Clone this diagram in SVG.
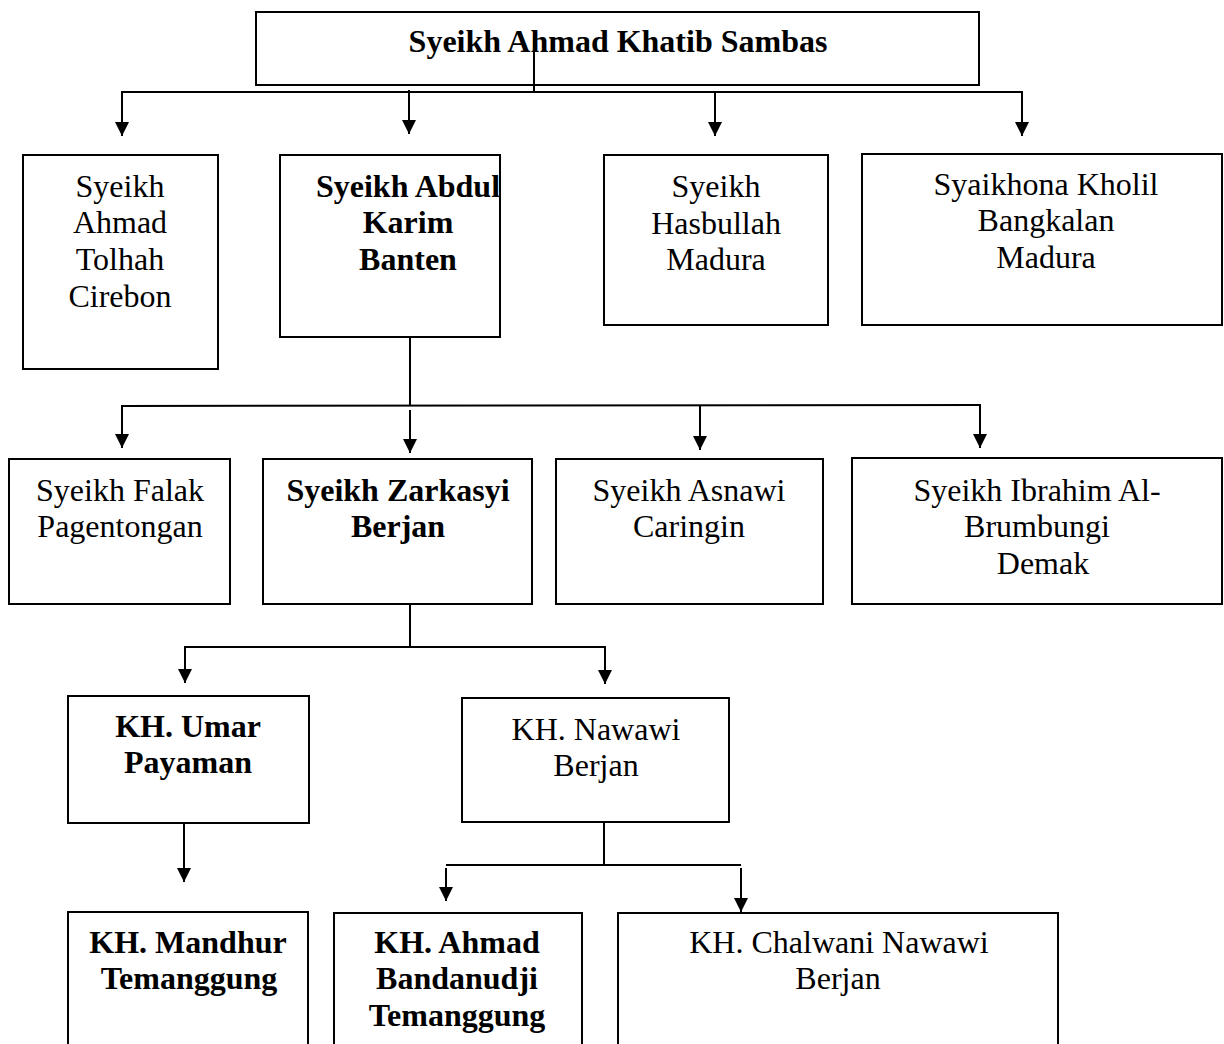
<svg xmlns="http://www.w3.org/2000/svg" width="1224" height="1044" viewBox="0 0 1224 1044">
<style>
.box{fill:#fff;stroke:#000;stroke-width:2}
.t{font-family:"Liberation Serif","Times New Roman",serif;font-size:32px;fill:#000;text-anchor:middle}
.b{font-weight:bold}
.ln{fill:none;stroke:#000;stroke-width:2}
</style>
<defs>
<marker id="ah" viewBox="0 0 14 14" refX="14" refY="7" markerWidth="14" markerHeight="14" markerUnits="userSpaceOnUse" orient="auto">
<path d="M0,0 L14,7 L0,14 Z" fill="#000"/>
</marker>
</defs>
<rect width="1224" height="1044" fill="#fff"/>

<g id="n-root">
<rect class="box" x="256" y="12" width="723" height="73"/>
<text class="t b" x="618" y="52">Syeikh Ahmad Khatib Sambas</text>
</g>
<g id="n-tolhah">
<rect class="box" x="23" y="155" width="195" height="214"/>
<text class="t" x="120" y="197">Syeikh</text>
<text class="t" x="120" y="233">Ahmad</text>
<text class="t" x="120" y="270">Tolhah</text>
<text class="t" x="120" y="307">Cirebon</text>
</g>
<g id="n-abdulkarim">
<rect class="box" x="280" y="155" width="220" height="182"/>
<text class="t b" x="408" y="197">Syeikh Abdul</text>
<text class="t b" x="408" y="233">Karim</text>
<text class="t b" x="408" y="270">Banten</text>
</g>
<g id="n-hasbullah">
<rect class="box" x="604" y="155" width="224" height="170"/>
<text class="t" x="716" y="197">Syeikh</text>
<text class="t" x="716" y="234">Hasbullah</text>
<text class="t" x="716" y="270">Madura</text>
</g>
<g id="n-kholil">
<rect class="box" x="862" y="154" width="360" height="171"/>
<text class="t" x="1046" y="195">Syaikhona Kholil</text>
<text class="t" x="1046" y="231">Bangkalan</text>
<text class="t" x="1046" y="268">Madura</text>
</g>

<g id="n-falak">
<rect class="box" x="9" y="459" width="221" height="145"/>
<text class="t" x="120" y="501">Syeikh Falak</text>
<text class="t" x="120" y="537">Pagentongan</text>
</g>
<g id="n-zarkasyi">
<rect class="box" x="263" y="459" width="269" height="145"/>
<text class="t b" x="398" y="501">Syeikh Zarkasyi</text>
<text class="t b" x="398" y="537">Berjan</text>
</g>
<g id="n-asnawi">
<rect class="box" x="556" y="459" width="267" height="145"/>
<text class="t" x="689" y="501">Syeikh Asnawi</text>
<text class="t" x="689" y="537">Caringin</text>
</g>
<g id="n-ibrahim">
<rect class="box" x="852" y="458" width="370" height="146"/>
<text class="t" x="1037" y="501">Syeikh Ibrahim Al-</text>
<text class="t" x="1037" y="537">Brumbungi</text>
<text class="t" x="1043" y="574">Demak</text>
</g>

<g id="n-umar">
<rect class="box" x="68" y="696" width="241" height="127"/>
<text class="t b" x="188" y="737">KH. Umar</text>
<text class="t b" x="188" y="773">Payaman</text>
</g>
<g id="n-nawawi">
<rect class="box" x="462" y="698" width="267" height="124"/>
<text class="t" x="596" y="740">KH. Nawawi</text>
<text class="t" x="596" y="776">Berjan</text>
</g>

<g id="n-mandhur">
<rect class="box" x="68" y="912" width="240" height="150"/>
<text class="t b" x="188" y="953">KH. Mandhur</text>
<text class="t b" x="189" y="989">Temanggung</text>
</g>
<g id="n-bandanudji">
<rect class="box" x="334" y="913" width="248" height="150"/>
<text class="t b" x="457" y="953">KH. Ahmad</text>
<text class="t b" x="457" y="989">Bandanudji</text>
<text class="t b" x="457" y="1026">Temanggung</text>
</g>
<g id="n-chalwani">
<rect class="box" x="618" y="913" width="440" height="150"/>
<text class="t" x="839" y="953">KH. Chalwani Nawawi</text>
<text class="t" x="838" y="989">Berjan</text>
</g>

<g id="connectors">
<line class="ln" x1="534" y1="36" x2="534" y2="91"/>
<line class="ln" x1="121" y1="92" x2="1023" y2="92"/>
<line class="ln" x1="122" y1="92" x2="122" y2="136" marker-end="url(#ah)"/>
<line class="ln" x1="409" y1="90" x2="409" y2="134" marker-end="url(#ah)"/>
<line class="ln" x1="715" y1="92" x2="715" y2="136" marker-end="url(#ah)"/>
<line class="ln" x1="1022" y1="92" x2="1022" y2="136" marker-end="url(#ah)"/>

<line class="ln" x1="410" y1="337" x2="410" y2="406"/>
<line class="ln" x1="121" y1="406" x2="981" y2="405"/>
<line class="ln" x1="122" y1="406" x2="122" y2="448" marker-end="url(#ah)"/>
<line class="ln" x1="410" y1="410" x2="410" y2="453" marker-end="url(#ah)"/>
<line class="ln" x1="700" y1="406" x2="700" y2="450" marker-end="url(#ah)"/>
<line class="ln" x1="980" y1="405" x2="980" y2="448" marker-end="url(#ah)"/>

<line class="ln" x1="410" y1="604" x2="410" y2="647"/>
<line class="ln" x1="184" y1="647" x2="606" y2="647"/>
<line class="ln" x1="185" y1="647" x2="185" y2="683" marker-end="url(#ah)"/>
<line class="ln" x1="605" y1="647" x2="605" y2="684" marker-end="url(#ah)"/>

<line class="ln" x1="184" y1="823" x2="184" y2="882" marker-end="url(#ah)"/>

<line class="ln" x1="604" y1="822" x2="604" y2="865"/>
<line class="ln" x1="446" y1="865" x2="741" y2="865"/>
<line class="ln" x1="446" y1="868" x2="446" y2="901" marker-end="url(#ah)"/>
<line class="ln" x1="741" y1="868" x2="741" y2="912" marker-end="url(#ah)"/>
</g>
</svg>
